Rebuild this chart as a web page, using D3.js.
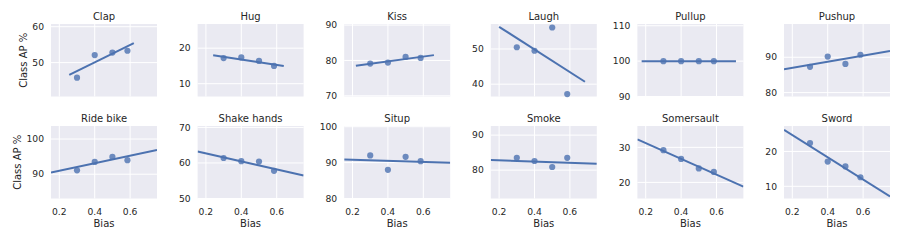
<!DOCTYPE html>
<html><head><meta charset="utf-8">
<script src="https://cdn.jsdelivr.net/npm/d3@7"></script>
<style>body{margin:0;background:#fff}svg{display:block}text{font-family:"DejaVu Sans",sans-serif;fill:#262626}</style>
</head><body><div id="chart"></div>
<script>
const categories = ["Clap","Hug","Kiss","Laugh","Pullup","Pushup","Ride bike","Shake hands","Situp","Smoke","Somersault","Sword"];
const bias = [0.3, 0.4, 0.5, 0.585];
const classAP = [
  [45.8, 52.1, 52.8, 53.3],
  [17.2, 17.4, 16.4, 15.0],
  [79.1, 79.4, 81.0, 80.7],
  [50.5, 49.5, 56.1, 37.2],
  [100, 100, 100, 100],
  [87.3, 90.2, 88.1, 90.7],
  [91.1, 93.5, 94.9, 94.0],
  [61.4, 60.5, 60.4, 57.8],
  [92.0, 88.0, 91.6, 90.4],
  [83.5, 82.6, 80.9, 83.5],
  [29.2, 26.7, 24.0, 23.0],
  [22.4, 17.1, 15.7, 12.6]
];
// regression line endpoints [[x0,y0],[x1,y1]]
const fitLines = [
  [[0.256, 46.6], [0.621, 55.4]],
  [[0.241, 18.0], [0.64, 15.0]],
  [[0.219, 78.5], [0.66, 81.5]],
  [[0.2, 56.3], [0.685, 40.7]],
  [[0.177, 100], [0.71, 100]],
  [[0.153, 86.6], [0.752, 91.8]],
  [[0.153, 90.5], [0.752, 96.9]],
  [[0.153, 63.2], [0.752, 56.45]],
  [[0.153, 90.9], [0.752, 89.95]],
  [[0.153, 82.9], [0.752, 81.8]],
  [[0.153, 32.3], [0.752, 18.8]],
  [[0.153, 26.2], [0.752, 7.1]]
];
const yDomains = [[40.56,60.75],[6.4,26.8],[69.8,90.3],[36.5,57.1],[90,110.5],[78.9,99.4],[83.1,103.7],[50,70.4],[80,100.2],[71.9,92.6],[15.4,36.1],[6.5,27.3]];
const yTicks = [[50,60],[10,20],[70,80,90],[40,50],[90,100,110],[80,90],[90,100],[50,60,70],[80,90,100],[80,90],[20,30],[10,20]];
const xTicks = [0.2, 0.4, 0.6];
const xDomain = [0.153, 0.752];

const W = 904, H = 241;
const left0 = 51, colStep = 146.6, pw = 106, ph = 72.5;
const rowTops = [24, 126];
const tickGap = 7;
const svg = d3.select("#chart").append("svg").attr("width", W).attr("height", H);
const x = d3.scaleLinear().domain(xDomain).range([0, pw]);

categories.forEach((cat, i) => {
  const r = Math.floor(i / 6), c = i % 6;
  const g = svg.append("g").attr("transform", `translate(${left0 + c * colStep},${rowTops[r]})`);
  const y = d3.scaleLinear().domain(yDomains[i]).range([ph, 0]);
  g.append("rect").attr("width", pw).attr("height", ph).attr("fill", "#EAEAF2");
  const cid = "clip" + i;
  g.append("clipPath").attr("id", cid).append("rect").attr("width", pw).attr("height", ph);
  g.selectAll(".gx").data(xTicks).join("line").attr("x1", d => x(d)).attr("x2", d => x(d))
    .attr("y1", 0).attr("y2", ph).attr("stroke", "#fff").attr("stroke-width", 1);
  g.selectAll(".gy").data(yTicks[i]).join("line").attr("y1", d => y(d)).attr("y2", d => y(d))
    .attr("x1", 0).attr("x2", pw).attr("stroke", "#fff").attr("stroke-width", 1);
  const yt = g.selectAll(".yt").data(yTicks[i]).join("text").attr("class", "yt").attr("x", -tickGap).attr("y", d => y(d))
    .attr("dy", "0.35em").attr("text-anchor", "end").attr("font-size", 9.2).text(d => d);
  g.append("text").attr("x", pw / 2).attr("y", -4.5).attr("text-anchor", "middle").attr("font-size", 10).text(cat);
  g.append("line").attr("clip-path", `url(#${cid})`)
    .attr("x1", x(fitLines[i][0][0])).attr("y1", y(fitLines[i][0][1]))
    .attr("x2", x(fitLines[i][1][0])).attr("y2", y(fitLines[i][1][1]))
    .attr("stroke", "#4C72B0").attr("stroke-width", 2);
  g.selectAll(".pt").data(bias.map((b, k) => [b, classAP[i][k]])).join("circle")
    .attr("cx", d => x(d[0])).attr("cy", d => y(d[1])).attr("r", 3.1)
    .attr("fill", "#4C72B0").attr("fill-opacity", 0.8);
  if (r === 1) {
    g.selectAll(".xt").data(xTicks).join("text").attr("x", d => x(d)).attr("y", ph + 16)
      .attr("text-anchor", "middle").attr("font-size", 9.2).text(d => d3.format(".1f")(d));
    g.append("text").attr("x", pw / 2).attr("y", ph + 28.7).attr("text-anchor", "middle").attr("font-size", 10).text("Bias");
  }
  if (c === 0) {
    let maxW = 0;
    yt.each(function(){ maxW = Math.max(maxW, this.getComputedTextLength()); });
    const lx = -tickGap - maxW - 5;
    g.append("text").attr("transform", `translate(${lx},${ph / 2}) rotate(-90)`)
      .attr("text-anchor", "middle").attr("font-size", 10).text("Class AP %");
  }
});
</script></body></html>
